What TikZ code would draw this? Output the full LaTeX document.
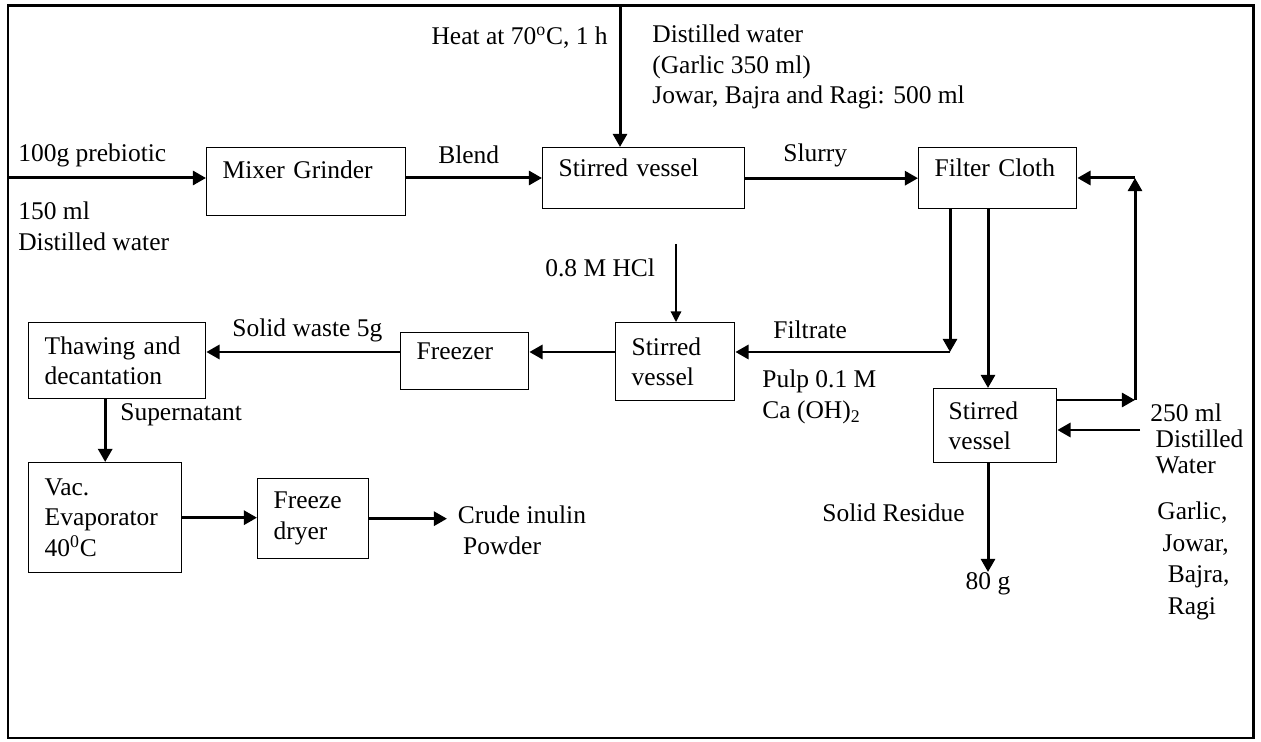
\documentclass[tikz,border=0pt]{standalone}
\usepackage{fontspec}
\setmainfont{Liberation Serif}
\usetikzlibrary{arrows.meta}
\begin{document}
\begin{tikzpicture}[x=.02cm,y=-.02cm,font=\fontsize{14.5}{17.5}\selectfont,
 arr/.style={-{Triangle[length=7.5pt,width=8pt]},line width=1.7pt},
 tarr/.style={-{Triangle[length=6pt,width=6pt]},line width=.7pt},
 box/.style={draw,line width=.8pt,anchor=north west,align=left,inner xsep=.32cm},
 lbl/.style={inner sep=0pt,align=left},
 lift/.style={text height=10pt,text depth=#1}]
\useasboundingbox (0,0) rectangle (1261,742);
\draw[line width=1.7pt] (8,6) rectangle (1253,738);
\node[box,text width=3.34cm,minimum height=1.36cm,lift=14pt] (mixer) at (206,147) {Mixer Grinder};
\node[box,text width=3.4cm,minimum height=1.22cm,lift=11.5pt] (sv1) at (542,147) {Stirred vessel};
\node[box,text width=2.52cm,minimum height=1.22cm,lift=11.5pt] (filter) at (918,147) {Filter Cloth};
\node[box,text width=1.74cm,minimum height=1.56cm] (sv2) at (615,322) {Stirred\\vessel};
\node[box,text width=1.92cm,minimum height=1.14cm,lift=12pt] (freezer) at (400,332) {Freezer};
\node[box,text width=2.9cm,minimum height=1.52cm] (thaw) at (28,322) {Thawing and\\decantation};
\node[box,text width=2.42cm,minimum height=2.2cm] (vac) at (28,462) {Vac.\\Evaporator\\40\textsuperscript{0}C};
\node[box,text width=1.58cm,minimum height=1.6cm] (fd) at (257,478) {Freeze\\dryer};
\node[box,text width=1.86cm,inner xsep=.3cm,minimum height=1.48cm] (sv3) at (933,388) {Stirred\\vessel};
\node[lbl,anchor=east] (heat) at (608,38) {Heat at 70\textsuperscript{o}C, 1 h};
\node[lbl,anchor=west] (water) at (652,67) {Distilled water\\(Garlic 350 ml)\\Jowar, Bajra and Ragi: 500 ml};
\node[lbl,anchor=west] (pre) at (18,155) {100g prebiotic};
\node[lbl,anchor=west] (dw) at (18,226) {150 ml\\Distilled water};
\node[lbl,anchor=west] (blend) at (438,155) {Blend};
\node[lbl,anchor=west] (slurry) at (783,155) {Slurry};
\node[lbl,anchor=west] (hcl) at (545,268) {0.8 M HCl};
\node[lbl,anchor=west] (filtrate) at (773,330) {Filtrate};
\node[lbl,anchor=west] (pulp) at (762,397) {Pulp 0.1 M\\Ca (OH)\textsubscript{2}};
\node[lbl,anchor=west] (waste) at (232,330) {Solid waste 5g};
\node[lbl,anchor=west] (super) at (120,415) {Supernatant};
\node[lbl,anchor=west,inner xsep=6pt] (crude) at (447,530) {Crude inulin\\\hspace{3pt}Powder};
\node[lbl,anchor=west] (residue) at (822,513) {Solid Residue};
\node[lbl,anchor=north] (eighty) at (988,572) {80 g};
\node[lbl,anchor=west,font=\fontsize{14.5}{14.7}\selectfont] (rinse) at (1150,439) {250 ml\\\hspace{3pt}Distilled\\\hspace{3pt}Water};
\node[lbl,anchor=west,font=\fontsize{14.5}{18}\selectfont] (grains) at (1157,561) {Garlic,\\\hspace{3pt}Jowar,\\\hspace{6pt}Bajra,\\\hspace{6pt}Ragi};
\coordinate (src) at (8,178);\coordinate (heattop) at (620,6);\coordinate (hcltop) at (676,244);
\coordinate (fcorner) at (950,352);\coordinate (rbot) at (1135,400);\coordinate (rtop) at (1135,178);\coordinate (win) at (1140,430);
\draw[arr] (src)--(mixer.west |- src);\draw[arr] (mixer.east |- src)--(sv1.west |- src);
\draw[arr] (heattop)--(heattop |- sv1.north);\draw[arr] (sv1)--(filter);
\draw[arr] (filter.south -| fcorner)--(fcorner);\draw[arr] (fcorner)--(sv2.east |- fcorner);
\draw[tarr] (hcltop)--(hcltop |- sv2.north);
\draw[arr] (sv2.west |- fcorner)--(freezer.east |- fcorner);\draw[arr] (freezer.west |- fcorner)--(thaw.east |- fcorner);
\draw[arr] (thaw.south -| vac.north)--(vac.north);
\draw[arr] (vac.east)--(vac.east -| fd.west);\draw[arr] (fd.east)--(fd.east -| crude.west);
\draw[arr] (filter.south -| eighty)--(sv3.north -| eighty);\draw[arr] (sv3.south -| eighty)--(eighty);
\draw[arr] (sv3.east |- rbot)--(rbot);\draw[arr] (rbot)--(rtop);\draw[arr] (rtop)--(filter.east |- rtop);
\draw[arr] (win)--(sv3.east |- win);
\end{tikzpicture}
\end{document}
